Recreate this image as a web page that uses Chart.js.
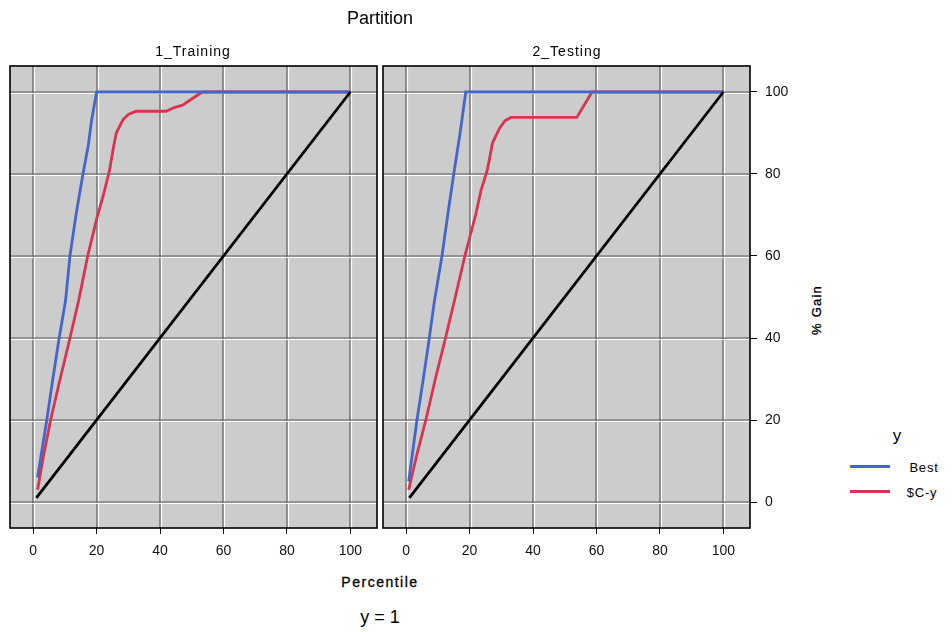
<!DOCTYPE html>
<html>
<head>
<meta charset="utf-8">
<script src="https://cdn.jsdelivr.net/npm/chart.js@4"></script>
<style>
  body { margin: 0; background: #fff; font-family: "Liberation Sans", Arial, sans-serif; }
  #wrap { position: relative; width: 952px; height: 632px; overflow: hidden; }
  canvas { position: absolute; top: 0; }
  .txt { position: absolute; color: #000; white-space: nowrap; transform: translate(-50%, -50%); }
</style>
</head>
<body>
<div id="wrap">
  <canvas id="train" width="380" height="570" style="left:0"></canvas>
  <canvas id="test" width="420" height="570" style="left:380px"></canvas>

  <div class="txt" style="left:380px;top:18px;font-size:18px">Partition</div>
  <div class="txt" style="left:193px;top:51px;font-size:14px;letter-spacing:1px">1_Training</div>
  <div class="txt" style="left:567px;top:51px;font-size:14px;letter-spacing:1px">2_Testing</div>
  <div class="txt" style="left:380px;top:582px;font-size:14px;letter-spacing:1.5px;-webkit-text-stroke:0.3px #000">Percentile</div>
  <div class="txt" style="left:380px;top:617px;font-size:18px">y = 1</div>
  <div class="txt" style="left:816px;top:310px;font-size:13px;letter-spacing:1.2px;-webkit-text-stroke:0.3px #000;transform:translate(-50%,-50%) rotate(-90deg)">% Gain</div>

  <div class="txt" style="left:897px;top:436px;font-size:17px">y</div>
  <div style="position:absolute;left:850px;top:465px;width:40px;height:3px;background:#4466c8"></div>
  <div class="txt" style="left:924px;top:467px;font-size:13px;letter-spacing:0.8px">Best</div>
  <div style="position:absolute;left:850px;top:490px;width:40px;height:3px;background:#d9334f"></div>
  <div class="txt" style="left:922px;top:492px;font-size:13px;letter-spacing:0.8px">$C-y</div>
</div>

<script>
const xTicks = [0, 20, 40, 60, 80, 100];
const yTicks = [0, 20, 40, 60, 80, 100];

const trainBestX = [1.4, 4.3, 6.2, 8.2, 10.2, 11.6, 13.5, 15.7, 17.4, 18.4, 20, 100];
const trainBestY = [6, 20, 30, 40, 49, 60, 70, 80, 87, 93, 100, 100];
const trainModelX = [1.4, 3.2, 5.5, 8.5, 11.6, 14.3, 17.2, 20, 22.2, 24.1, 25.2, 26.2, 28.3, 30, 32.5, 41.9, 44.5, 47.1, 50, 53.3, 100];
const trainModelY = [3, 11, 20, 30, 40, 49, 60, 69, 75, 81, 86, 90, 93.2, 94.5, 95.3, 95.3, 96.2, 96.8, 98.3, 100, 100];

const testBestX = [0.8, 3.4, 5.4, 7.3, 8.9, 11.3, 13.1, 15, 17, 18.8, 100];
const testBestY = [5, 20, 30, 40, 49, 60, 70, 80, 90, 100, 100];
const testModelX = [0.8, 3.2, 6.2, 9.2, 12.4, 15.5, 18.5, 21.9, 23.6, 25.6, 27.2, 29.4, 31.2, 33.1, 53.8, 58.6, 100];
const testModelY = [3, 11, 20, 30, 40, 50, 60, 70, 76, 81, 87.5, 91.1, 93, 93.8, 93.8, 100, 100];

const baseX = [1, 100];
const baseY = [1, 100];

const BLUE = "#4466c8";
const RED = "#d9334f";

function pts(xs, ys) {
  return xs.map((x, i) => ({ x: x, y: ys[i] }));
}

/* ---------- panel background, embossed grid, frame ---------- */
const panelPlugin = {
  id: "panel",
  beforeDatasetsDraw(chart) {
    const { ctx, chartArea: a, scales } = chart;
    ctx.save();
    ctx.fillStyle = "#cccccc";
    ctx.fillRect(a.left, a.top, a.right - a.left, a.bottom - a.top);
    ctx.lineWidth = 1.2;
    xTicks.forEach(v => {
      const px = Math.round(scales.x.getPixelForValue(v));
      ctx.strokeStyle = "#5a5a5a";
      ctx.beginPath(); ctx.moveTo(px, a.top); ctx.lineTo(px, a.bottom); ctx.stroke();
      ctx.strokeStyle = "#ffffff";
      ctx.beginPath(); ctx.moveTo(px + 1.5, a.top); ctx.lineTo(px + 1.5, a.bottom); ctx.stroke();
    });
    yTicks.forEach(v => {
      const py = Math.round(scales.y.getPixelForValue(v));
      ctx.strokeStyle = "#5a5a5a";
      ctx.beginPath(); ctx.moveTo(a.left, py); ctx.lineTo(a.right, py); ctx.stroke();
      ctx.strokeStyle = "#ffffff";
      ctx.beginPath(); ctx.moveTo(a.left, py + 1.5); ctx.lineTo(a.right, py + 1.5); ctx.stroke();
    });
    ctx.restore();
  },
  afterDraw(chart) {
    const { ctx, chartArea: a } = chart;
    ctx.save();
    ctx.strokeStyle = "#000";
    ctx.lineWidth = 1.6;
    ctx.strokeRect(a.left, a.top, a.right - a.left, a.bottom - a.top);
    ctx.restore();
  }
};

function makePanel(canvasId, best, model, showY, padding) {
  const lineDs = (label, data, color) => ({
    label, data,
    borderColor: color, borderWidth: 2.8,
    pointRadius: 0, tension: 0, fill: false
  });

  return new Chart(document.getElementById(canvasId), {
    type: "line",
    data: {
      datasets: [
        lineDs("Baseline", pts(baseX, baseY), "#000000"),
        lineDs("Best", best, BLUE),
        lineDs("$C-y", model, RED)
      ]
    },
    options: {
      responsive: false,
      animation: false,
      devicePixelRatio: 1,
      layout: { padding },
      plugins: { legend: { display: false }, tooltip: { enabled: false } },
      scales: {
        x: {
          type: "linear",
          min: -7.3, max: 108.4,
          afterBuildTicks: s => { s.ticks = xTicks.map(v => ({ value: v })); },
          afterFit: s => { s.height = 42; },
          grid: { drawOnChartArea: false, drawTicks: true, tickLength: 6, color: "#000", lineWidth: 1 },
          border: { display: false },
          ticks: { padding: 9, color: "#111", font: { family: "Liberation Sans", size: 14 } }
        },
        y: {
          type: "linear",
          display: showY,
          position: "right",
          min: -6.34, max: 106.34,
          afterBuildTicks: s => { s.ticks = yTicks.map(v => ({ value: v })); },
          afterFit: s => { s.width = showY ? 50 : 0; },
          grid: { drawOnChartArea: false, drawTicks: true, tickLength: 7, color: "#000", lineWidth: 1 },
          border: { display: false },
          ticks: { padding: 8, color: "#111", font: { family: "Liberation Sans", size: 14 } }
        }
      }
    },
    plugins: [panelPlugin]
  });
}

makePanel("train", pts(trainBestX, trainBestY), pts(trainModelX, trainModelY), false,
  { left: 10, top: 66, right: 3, bottom: 0 });
makePanel("test", pts(testBestX, testBestY), pts(testModelX, testModelY), true,
  { left: 3, top: 66, right: 0, bottom: 0 });
</script>
</body>
</html>
